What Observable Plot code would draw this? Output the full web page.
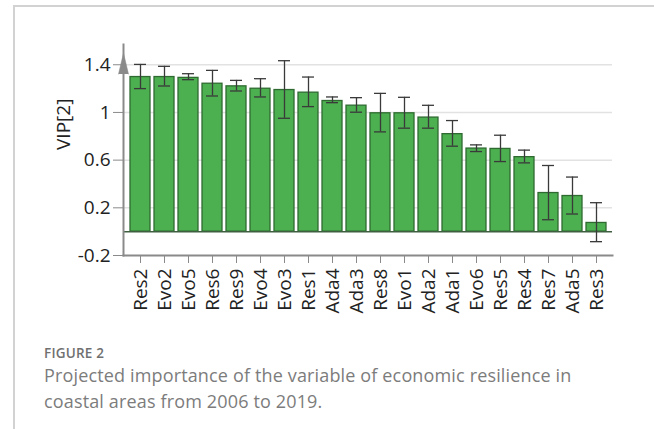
<!DOCTYPE html>
<html>
<head>
<meta charset="utf-8">
<script src="https://cdn.jsdelivr.net/npm/d3@7"></script>
<script src="https://cdn.jsdelivr.net/npm/@observablehq/plot@0.6"></script>
<style>
  html, body { margin: 0; padding: 0; background: #fff; }
  #page { position: relative; width: 654px; height: 429px; overflow: hidden; }
  #frame { position: absolute; left: 13px; top: 5px; width: 645px; height: 430px;
           border-left: 2px solid #d2d2d2; border-top: 2px solid #d2d2d2; }
  #chart { position: absolute; left: 0; top: 0; }
  #fig { position: absolute; left: 44px; top: 344px; font-family: "Open Sans", sans-serif;
         font-size: 13.5px; font-weight: 600; color: #707070; letter-spacing: 0.2px; }
  #cap { position: absolute; left: 44px; top: 362px; width: 610px; font-family: "Open Sans", sans-serif;
         font-size: 18px; line-height: 26px; color: #7c7c7c; font-weight: 400; letter-spacing: 0.15px; }
</style>
</head>
<body>
<div id="page">
  <div id="frame"></div>
  <div id="chart"></div>
  <div id="fig">FIGURE 2</div>
  <div id="cap">Projected importance of the variable of economic resilience in<br>coastal areas from 2006 to 2019.</div>
</div>
<script>
const categories = ["Res2","Evo2","Evo5","Res6","Res9","Evo4","Evo3","Res1","Ada4","Ada3",
                    "Res8","Evo1","Ada2","Ada1","Evo6","Res5","Res4","Res7","Ada5","Res3"];
const vip     = [1.297, 1.297, 1.29, 1.241, 1.219, 1.199, 1.188, 1.166, 1.096, 1.057,
                 0.993, 0.993, 0.957, 0.818, 0.697, 0.694, 0.625, 0.324, 0.299, 0.073];
const errLow  = [1.20, 1.222, 1.275, 1.138, 1.18, 1.13, 0.951, 1.049, 1.082, 1.002,
                 0.837, 0.868, 0.868, 0.717, 0.672, 0.588, 0.577, 0.10, 0.148, -0.084];
const errHigh = [1.403, 1.387, 1.325, 1.353, 1.269, 1.283, 1.434, 1.297, 1.13, 1.124,
                 1.16, 1.127, 1.06, 0.932, 0.728, 0.809, 0.684, 0.555, 0.458, 0.243];
const yTicks = [-0.2, 0.2, 0.6, 1, 1.4];
const yLabel = "VIP[2]";

const data = categories.map((c, i) => ({cat: c, v: vip[i], lo: errLow[i], hi: errHigh[i]}));

const chart = Plot.plot({
  width: 654,
  height: 330,
  marginLeft: 123,
  marginRight: 42,
  marginTop: 44,
  marginBottom: 75,
  style: {fontFamily: "'Open Sans', sans-serif", fontSize: "19px", color: "#222", background: "transparent"},
  x: {domain: categories, paddingInner: 0.18, paddingOuter: 0.05, label: null},
  y: {domain: [-0.2, 1.57], label: null},
  marks: [
    Plot.gridY(yTicks.filter(t => t > -0.2), {stroke: "#e2e2e2", strokeOpacity: 1, strokeWidth: 1.5}),
    Plot.barY(data, {x: "cat", y: "v", fill: "#4caf50", stroke: "#2f6b31", strokeWidth: 1.3}),
    Plot.ruleY([0], {stroke: "#3f5f40", strokeWidth: 1.5}),
    Plot.ruleX(data, {x: "cat", y1: "lo", y2: "hi", stroke: "#3a3a3a", strokeWidth: 1.3}),
    Plot.tickY(data, {x: "cat", y: "lo", inset: 4, stroke: "#3a3a3a", strokeWidth: 1.3}),
    Plot.tickY(data, {x: "cat", y: "hi", inset: 4, stroke: "#3a3a3a", strokeWidth: 1.3}),
    Plot.frame({anchor: "left", stroke: "#8a8a8a", strokeWidth: 2}),
    Plot.frame({anchor: "bottom", stroke: "#8a8a8a", strokeWidth: 2}),
    Plot.vector([1.41], {y: d => d, frameAnchor: "left", shape: "spike", length: 21, r: 5,
                         fill: "#8a8a8a", stroke: "#8a8a8a", strokeWidth: 0.5}),
    Plot.axisY({ticks: yTicks, tickFormat: d => String(d), tickSize: 10, tickPadding: 3,
                stroke: "#8a8a8a", label: null, fontSize: 19}),
    Plot.axisX({tickRotate: -90, tickSize: 8, tickPadding: 5, stroke: "#8a8a8a", label: null, fontSize: 19}),
    Plot.text([yLabel], {text: d => d, frameAnchor: "left", dx: -60, rotate: -90, fontSize: 19, fill: "#222"})
  ]
});
document.getElementById("chart").appendChild(chart);
</script>
</body>
</html>
